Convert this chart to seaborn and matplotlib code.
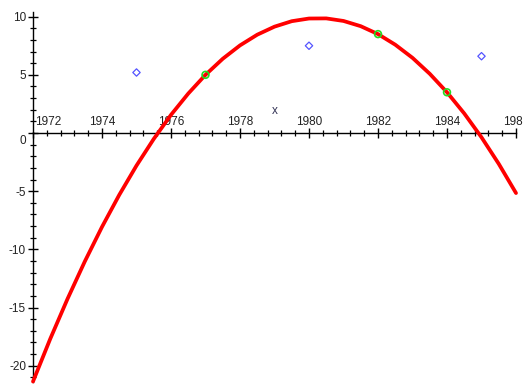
import numpy as np
import pandas as pd
import matplotlib
matplotlib.use("Agg")
import matplotlib.pyplot as plt
from matplotlib.ticker import MultipleLocator
from matplotlib.transforms import offset_copy
import seaborn as sns

# ---- data ----
curve_years = [1972.0, 1972.5, 1973.0, 1973.5, 1974.0, 1974.5, 1975.0, 1975.5,
               1976.0, 1976.5, 1977.0, 1977.5, 1978.0, 1978.5, 1979.0, 1979.5,
               1980.0, 1980.5, 1981.0, 1981.5, 1982.0, 1982.5, 1983.0, 1983.5,
               1984.0, 1984.5, 1985.0, 1985.5, 1986.0]
curve_values = [-21.36, -17.69, -14.26, -11.05, -8.07, -5.32, -2.80, -0.51,
                1.56, 3.39, 5.00, 6.38, 7.53, 8.45, 9.14, 9.61,
                9.84, 9.85, 9.63, 9.18, 8.50, 7.59, 6.46, 5.09,
                3.50, 1.68, -0.37, -2.65, -5.16]

blue_years = [1975, 1980, 1985]
blue_values = [5.2, 7.5, 6.6]

green_years = [1977, 1982, 1984]
green_values = [5.0, 8.5, 3.5]

x_ticks = [1972, 1974, 1976, 1978, 1980, 1982, 1984, 1986]
y_ticks = [-20, -15, -10, -5, 0, 5, 10]

sns.set_style("white")
plt.rcParams["font.family"] = ["Liberation Sans", "DejaVu Sans"]
plt.rcParams["axes.unicode_minus"] = False

W, H = 523, 385
fig = plt.figure(figsize=(W / 100, H / 100), dpi=100)
x0_px, x1_px = 33, 516
y_top_px, y_bot_px = 12, 382
ax = fig.add_axes([x0_px / W, 1 - y_bot_px / H, (x1_px - x0_px) / W, (y_bot_px - y_top_px) / H])
ax.set_facecolor("none")

curve = pd.DataFrame({"year": curve_years, "value": curve_values})
blue = pd.DataFrame({"year": blue_years, "value": blue_values})
green = pd.DataFrame({"year": green_years, "value": green_values})

sns.lineplot(data=curve, x="year", y="value", ax=ax, color="#ff0000",
             linewidth=2.7, zorder=3, clip_on=False,
             solid_joinstyle="round", solid_capstyle="round")
sns.scatterplot(data=green, x="year", y="value", ax=ax, marker="o", s=24,
                facecolor="none", edgecolor="#22dd22", linewidth=1.2, zorder=4)
sns.scatterplot(data=blue, x="year", y="value", ax=ax, marker="D", s=14,
                facecolor="none", edgecolor="#5555ff", linewidth=0.9, zorder=4)

ax.set_xlim(1972, 1986)
ax.set_ylim(-21.4, 10.4)

# axes crossing: x-axis at y=0 (labels above), y-axis at x=1972
for s in ["right", "bottom"]:
    ax.spines[s].set_visible(False)
ax.spines["top"].set_position(("data", 0))
ax.spines["left"].set_position(("data", 1972))
for s in ["top", "left"]:
    ax.spines[s].set_color("black")
    ax.spines[s].set_linewidth(1.0)
    ax.spines[s].set_zorder(1)

ax.xaxis.set_ticks_position("top")
ax.xaxis.set_label_position("top")
ax.set_xticks(x_ticks)
ax.set_xticklabels([str(v) for v in x_ticks])
ax.xaxis.set_minor_locator(MultipleLocator(0.4))
ax.set_yticks(y_ticks)
ax.set_yticklabels([str(v) for v in y_ticks])
ax.yaxis.set_minor_locator(MultipleLocator(1))

ax.tick_params(axis="both", which="both", left=True, top=True, bottom=False, right=False)
ax.tick_params(axis="both", which="major", direction="inout", length=7,
               width=1.0, color="black", labelsize=8.5, labelcolor="#222222")
ax.tick_params(axis="both", which="minor", direction="inout", length=5,
               width=0.9, color="black")
ax.tick_params(axis="x", which="major", pad=0.3)
ax.tick_params(axis="y", which="major", pad=1.5)

xlabels = ax.get_xticklabels()
for lab in xlabels:
    lab.set_zorder(5)
# first x label sits to the right of the y-axis, hiding it behind a white box
xlabels[0].set_horizontalalignment("left")
xlabels[0].set_bbox(dict(facecolor="white", edgecolor="none", pad=3.0))
xlabels[0].set_transform(offset_copy(xlabels[0].get_transform(), fig=fig, x=1.5, y=0, units="points"))

# the 0 label on the y axis sits below the x-axis
for lab in ax.get_yticklabels():
    if lab.get_text() == "0":
        lab.set_verticalalignment("top")
        lab.set_transform(offset_copy(lab.get_transform(), fig=fig, x=0, y=-1.5, units="points"))

ax.set_xlabel("x", fontsize=8.5, color="#333355", labelpad=1.5)
ax.set_ylabel("")

fig.savefig("out.png", dpi=100)
